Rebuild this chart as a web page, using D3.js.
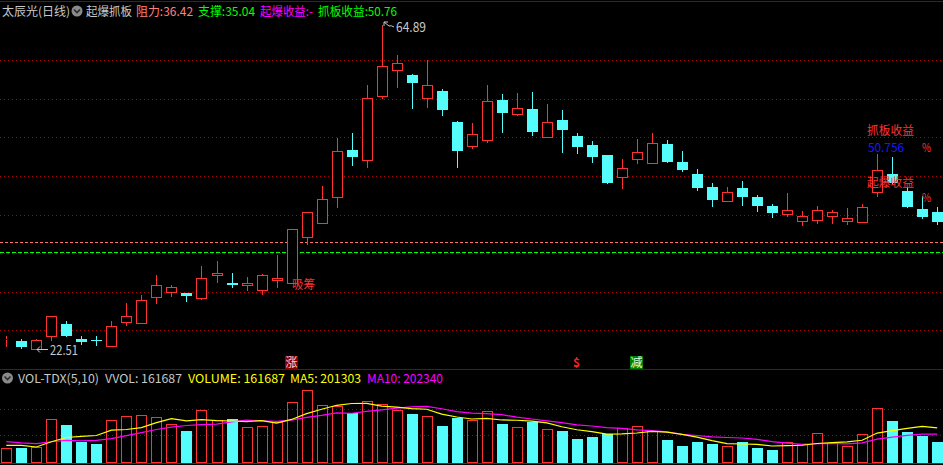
<!DOCTYPE html>
<html><head><meta charset="utf-8">
<script src="https://cdn.jsdelivr.net/npm/d3@7/dist/d3.min.js"></script>
<style>html,body{margin:0;padding:0;background:#000;overflow:hidden}svg{display:block}line,rect{shape-rendering:crispEdges}</style>
</head><body>
<svg id="c" width="943" height="465"></svg>
<script>
// ---------- data ----------
const opens  = [23.78,23.56,22.55,24.25,25.78,23.82,23.72,22.94,26.08,25.95,29.35,30.00,29.87,29.18,32.23,31.14,30.84,30.27,31.50,31.10,37.12,39.03,42.35,48.54,47.27,55.64,59.04,58.35,55.30,56.26,52.20,49.10,49.80,55.08,53.29,53.90,50.28,52.46,50.37,49.19,47.89,45.05,47.40,46.88,49.32,46.97,45.40,43.70,41.91,43.57,42.39,41.22,40.21,39.29,39.42,39.95,39.29,39.16,43.09,45.36,43.18,40.82,40.43];
const highs  = [24.21,23.78,23.82,26.83,26.17,24.21,24.21,26.17,28.53,29.57,32.19,30.92,29.87,33.37,34.02,32.45,31.93,32.32,34.81,38.16,40.39,43.83,50.11,50.76,57.04,64.89,60.97,58.48,60.31,56.52,52.33,52.07,57.04,55.86,55.99,56.13,54.56,53.77,50.76,49.72,47.89,47.36,49.98,50.72,49.85,48.41,46.05,44.22,43.70,44.49,42.65,41.48,42.91,40.56,41.22,40.69,40.95,41.48,48.02,47.66,43.74,42.52,41.08];
const lows   = [22.94,22.62,22.51,23.69,24.25,23.20,23.07,22.94,25.65,25.95,28.57,29.44,28.83,29.01,31.31,30.66,30.23,29.74,30.66,31.10,36.21,38.95,41.04,46.58,46.36,55.30,56.82,54.07,54.20,53.16,46.36,48.84,49.62,50.93,53.16,50.54,50.28,48.32,48.19,47.01,44.26,43.61,46.88,46.88,47.00,45.79,43.31,41.21,41.91,41.35,40.60,39.82,39.95,38.77,39.00,39.00,38.90,39.16,42.52,44.18,41.12,39.69,38.90];
const closes = [23.80,22.81,23.70,26.83,24.25,23.46,23.69,25.48,26.83,28.92,30.88,30.62,29.48,31.76,32.41,30.92,31.14,32.19,31.80,38.16,40.39,42.09,48.37,47.66,55.30,59.53,59.92,57.34,57.00,53.81,48.45,50.59,54.95,53.42,54.03,50.93,52.20,51.20,48.97,47.66,44.26,46.15,48.24,49.42,47.00,45.92,43.57,42.00,43.05,42.43,41.25,40.30,40.69,39.91,40.69,40.43,39.65,41.08,45.92,44.18,41.12,39.82,39.16];
const volumes = [114800,114800,120300,339000,294500,161700,146100,331200,362400,370200,354600,299900,247600,409300,331200,341300,276500,284300,315600,471800,565500,448300,440500,385900,479600,456200,409300,380400,362400,286700,346800,331200,401500,302300,276500,315600,260900,247600,185100,200700,221800,268700,284300,245300,177300,130400,161700,146100,130400,161700,114800,99200,161700,143700,229600,151500,130400,221800,424900,325700,239800,208600,161687];
const volPrior = [205000,178000,196000,188000,193500,114800,186800,132000,131100]; // days before the window (for MA)
const priceGrid = [60.27,55.22,50.18,45.13,40.09,35.04,29.99,24.95];
const volGrid = [214000,417000];
const resistance = 36.42, support = 35.04;
const header = [
  {t:"太辰光(日线)", x:2, w:68, c:"#c8c8c8"},
  {t:"起爆抓板", x:86, w:46, c:"#c8c8c8"},
  {t:"阻力:36.42", x:136, w:57, c:"#ff8080"},
  {t:"支撑:35.04", x:198, w:57, c:"#00ff00"},
  {t:"起爆收益:-", x:260, w:53, c:"#ff00ff"},
  {t:"抓板收益:50.76", x:318, w:79, c:"#00ff00"}
];
const volHeader = [
  {t:"VOL-TDX(5,10)", x:18, w:81, c:"#c8c8c8"},
  {t:"VVOL: 161687", x:105, w:77, c:"#c8c8c8"},
  {t:"VOLUME: 161687", x:188, w:97, c:"#ffff00"},
  {t:"MA5: 201303", x:290, w:71, c:"#ffff00"},
  {t:"MA10: 202340", x:367, w:76, c:"#ff00ff"}
];
const signals = [{i:19, t:"涨", box:"#8b0000", c:"#ffd0d0"},{i:38, t:"$", box:null, c:"#ff2020"},{i:42, t:"减", box:"#008000", c:"#e0ffe0"}];

// ---------- drawing ----------
const RED="#ff3232", CYAN="#54fcfc", GRID="#b00000";
const FONT='"Noto Sans CJK SC","Noto Sans",sans-serif';
const svg = d3.select("#c");
svg.append("rect").attr("width",943).attr("height",465).attr("fill","#000");

const n = closes.length;
const x = d3.scaleLinear().domain([0, n-1]).range([6.3, 937.2]);
const y = d3.scaleLinear().domain([22.51, 64.89]).range([349, 25]);
const yv = d3.scaleLinear().domain([0, 724000]).range([462.7, 370]);
const P = v => Math.round(v) + 0.5;

// frame lines
svg.append("line").attr("x1",0).attr("x2",943).attr("y1",1.5).attr("y2",1.5).attr("stroke","#900000");
svg.append("line").attr("x1",0).attr("x2",943).attr("y1",369.5).attr("y2",369.5).attr("stroke","#900000");
svg.append("line").attr("x1",0).attr("x2",943).attr("y1",463.5).attr("y2",463.5).attr("stroke","#c00000");

// price grid
svg.append("g").selectAll("line").data(priceGrid).join("line")
  .attr("x1",0).attr("x2",943).attr("y1",d=>P(y(d))).attr("y2",d=>P(y(d)))
  .attr("stroke",GRID).attr("stroke-dasharray","1,3");
// volume grid
svg.append("g").selectAll("line").data(volGrid).join("line")
  .attr("x1",0).attr("x2",943).attr("y1",d=>P(yv(d))).attr("y2",d=>P(yv(d)))
  .attr("stroke",GRID).attr("stroke-dasharray","1,3");

// resistance / support
svg.append("line").attr("x1",0).attr("x2",943).attr("y1",P(y(resistance))-1).attr("y2",P(y(resistance))-1)
  .attr("stroke","#ff7070").attr("stroke-width",1).attr("stroke-dasharray","3,2");
svg.append("line").attr("x1",0).attr("x2",943).attr("y1",P(y(support))-1).attr("y2",P(y(support))-1)
  .attr("stroke","#00ff00").attr("stroke-width",1).attr("stroke-dasharray","4,2");

// candles
const data = d3.range(n).map(i=>({i,o:opens[i],h:highs[i],l:lows[i],c:closes[i],v:volumes[i]}));
const cg = svg.append("g");
data.forEach(d=>{
  const cx = Math.round(x(d.i));
  const up = d.c >= d.o;
  const top = Math.round(y(Math.max(d.o,d.c))), bot = Math.round(y(Math.min(d.o,d.c)));
  const yh = Math.round(y(d.h)), yl = Math.round(y(d.l));
  if (up) {
    if (yh < top) cg.append("line").attr("x1",cx+0.5).attr("x2",cx+0.5).attr("y1",yh).attr("y2",top).attr("stroke",RED);
    if (yl > bot) cg.append("line").attr("x1",cx+0.5).attr("x2",cx+0.5).attr("y1",bot+1).attr("y2",yl+1).attr("stroke",RED);
    cg.append("rect").attr("x",cx-4.5).attr("y",top+0.5).attr("width",10).attr("height",Math.max(bot-top,0))
      .attr("fill","#000").attr("stroke",RED);
  } else {
    cg.append("line").attr("x1",cx+0.5).attr("x2",cx+0.5).attr("y1",yh).attr("y2",yl+1).attr("stroke",CYAN);
    cg.append("rect").attr("x",cx-5).attr("y",top).attr("width",11).attr("height",Math.max(bot-top,1)).attr("fill",CYAN);
  }
});

// volume bars
const vg = svg.append("g");
data.forEach(d=>{
  const cx = Math.round(x(d.i));
  const up = d.c >= d.o;
  const t = Math.round(yv(d.v)), b = 463;
  if (up) vg.append("rect").attr("x",cx-4.5).attr("y",t+0.5).attr("width",10).attr("height",b-t-1).attr("fill","none").attr("stroke",RED);
  else vg.append("rect").attr("x",cx-5).attr("y",t).attr("width",11).attr("height",b-t).attr("fill",CYAN);
});

// moving averages of volume
const allVol = volPrior.concat(volumes);
function ma(k){ return volumes.map((v,i)=>{ const j=i+volPrior.length; return d3.mean(allVol.slice(j-k+1,j+1)); }); }
const ma5 = ma(5), ma10 = ma(10);
const lineGen = arr => d3.line().x((d,i)=>x(i)).y(d=>yv(d))(arr);
svg.append("path").attr("d",lineGen(ma10)).attr("fill","none").attr("stroke","#ff00ff").attr("stroke-width",1.2);
svg.append("path").attr("d",lineGen(ma5)).attr("fill","none").attr("stroke","#ffff00").attr("stroke-width",1.2);

// header texts
function txt(g,o,yb,size){
  g.append("text").attr("x",o.x).attr("y",yb).attr("fill",o.c).attr("font-family",FONT).attr("font-size",size)
   .attr("textLength",o.w).attr("lengthAdjust","spacingAndGlyphs").text(o.t);
}
const hg = svg.append("g");
header.forEach(o=>txt(hg,o,15.5,12));
function icon(cx,cy){
  hg.append("circle").attr("cx",cx).attr("cy",cy).attr("r",5.5).attr("fill","#8a8a8a");
  hg.append("path").attr("d",`M${cx-3},${cy-1.5} L${cx},${cy+1.5} L${cx+3},${cy-1.5}`).attr("fill","none").attr("stroke","#2a2a2a").attr("stroke-width",1.6);
}
icon(77,11);
volHeader.forEach(o=>txt(hg,o,383,12));
icon(7.5,378);

// high / low markers
const iMax = d3.maxIndex(highs), iMin = d3.minIndex(lows);
const hx = Math.round(x(iMax)), hy = Math.round(y(highs[iMax]));
svg.append("path").attr("d",`M${hx+2},${hy-3} L${hx+2},${hy+1} M${hx+2},${hy-3} L${hx+6},${hy-3} M${hx+2},${hy-3} L${hx+7},${hy+1} Q${hx+9},${hy} ${hx+12},${hy+2}`)
  .attr("fill","none").attr("stroke","#c8c8c8").attr("stroke-width",1);
svg.append("text").attr("x",hx+14).attr("y",hy+7).attr("fill","#c8c8c8").attr("font-family",FONT).attr("font-size",13)
  .attr("textLength",30).attr("lengthAdjust","spacingAndGlyphs").text(highs[iMax].toFixed(2));
const lx = Math.round(x(iMin)), ly = Math.round(y(lows[iMin]));
svg.append("path").attr("d",`M${lx+1},${ly+0.5} L${lx+12},${ly+0.5} M${lx+1},${ly+0.5} L${lx+4},${ly-2.5} M${lx+1},${ly+0.5} L${lx+4},${ly+3.5}`)
  .attr("fill","none").attr("stroke","#c8c8c8").attr("stroke-width",1);
svg.append("text").attr("x",lx+14).attr("y",ly+6).attr("fill","#c8c8c8").attr("font-family",FONT).attr("font-size",13)
  .attr("textLength",28).attr("lengthAdjust","spacingAndGlyphs").text(lows[iMin].toFixed(2));

// 吸筹 label
svg.append("text").attr("x",Math.round(x(19))).attr("y",Math.round(y(lows[19]))+6).attr("fill",RED)
  .attr("font-family",FONT).attr("font-size",12).attr("textLength",23).attr("lengthAdjust","spacingAndGlyphs").text("吸筹");

// right annotations
const ax = Math.round(x(58)) - 10;
const ann = [
  {t:"抓板收益", x:ax, y:135, c:RED, w:47, s:12},
  {t:"50.756", x:ax+1, y:152, c:"#1a1aff", w:36, s:12},
  {t:"%", x:ax+55, y:152, c:RED, w:9, s:12},
  {t:"起爆收益", x:ax, y:187, c:RED, w:47, s:12},
  {t:"%", x:ax+55, y:202, c:RED, w:9, s:12}
];
ann.forEach(o=>svg.append("text").attr("x",o.x).attr("y",o.y).attr("fill",o.c).attr("font-family",FONT).attr("font-size",o.s)
  .attr("textLength",o.w).attr("lengthAdjust","spacingAndGlyphs").text(o.t));

// signal markers
signals.forEach(s=>{
  const cx = Math.round(x(s.i));
  if (s.box) svg.append("rect").attr("x",cx-7).attr("y",356).attr("width",13).attr("height",13).attr("fill",s.box);
  svg.append("text").attr("x",cx-0.5).attr("y",367).attr("text-anchor","middle").attr("fill",s.c)
    .attr("font-family",FONT).attr("font-size",12).attr("font-weight", s.box ? "normal" : "bold").text(s.t);
});
</script>
</body></html>
